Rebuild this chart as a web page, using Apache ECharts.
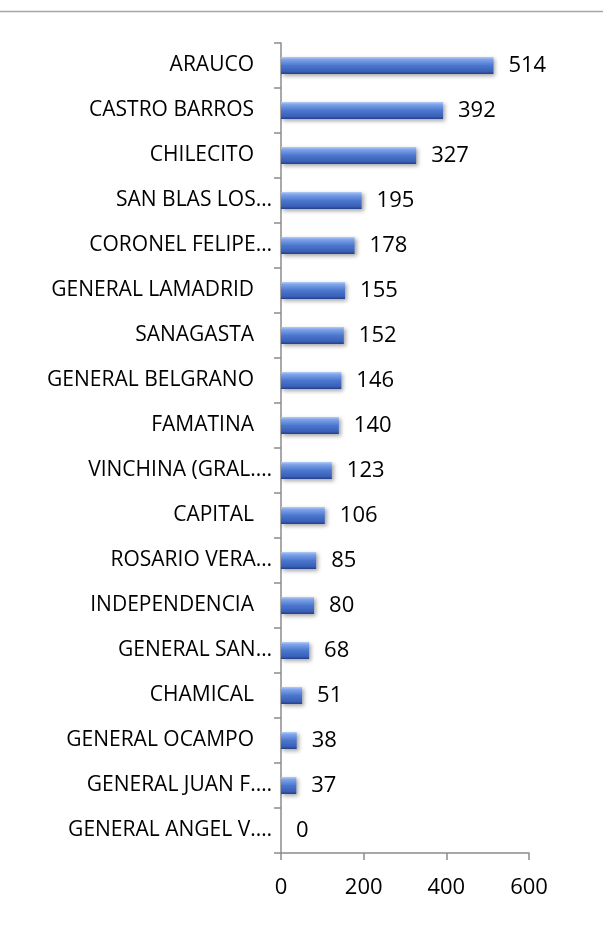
<!DOCTYPE html>
<html>
<head>
<meta charset="utf-8">
<script src="https://cdn.jsdelivr.net/npm/echarts@6/dist/echarts.min.js"></script>
<style>
html,body{margin:0;padding:0;background:#fff;}
#chart{width:603px;height:934px;}
</style>
</head>
<body>
<div id="chart"></div>
<script>
const categories = ["ARAUCO","CASTRO BARROS","CHILECITO","SAN BLAS LOS…","CORONEL FELIPE…","GENERAL LAMADRID","SANAGASTA","GENERAL BELGRANO","FAMATINA","VINCHINA (GRAL.…","CAPITAL","ROSARIO VERA…","INDEPENDENCIA","GENERAL SAN…","CHAMICAL","GENERAL OCAMPO","GENERAL JUAN F.…","GENERAL ANGEL V.…"];
const values = [514,392,327,195,178,155,152,146,140,123,106,85,80,68,51,38,37,0];
const xTicks = [0,200,400,600];

const FONT = "'Open Sans'";
const chart = echarts.init(document.getElementById('chart'), null, {renderer:'canvas'});
chart.setOption({
  animation:false,
  backgroundColor:'#fff',
  graphic:[{type:'line',shape:{x1:0,y1:11.5,x2:603,y2:11.5},style:{stroke:'#a6a6a6',lineWidth:1.5}}],
  grid:{left:281,right:74,top:43,bottom:81,containLabel:false},
  xAxis:{
    type:'value',min:xTicks[0],max:xTicks[xTicks.length-1],interval:200,
    axisLine:{show:true,lineStyle:{color:'#8c8c8c',width:1.5}},
    axisTick:{show:true,length:7,lineStyle:{color:'#8c8c8c',width:1.5}},
    splitLine:{show:false},
    axisLabel:{color:'#000',fontFamily:FONT,fontSize:22,margin:24}
  },
  yAxis:{
    type:'category',data:categories,inverse:true,
    axisLine:{show:true,lineStyle:{color:'#8c8c8c',width:1.5}},
    axisTick:{show:true,length:7,lineStyle:{color:'#8c8c8c',width:1.5}},
    axisLabel:{
      color:'#000',fontFamily:FONT,fontSize:21,margin:9,
      formatter:function(v){ return v.endsWith('…') ? '{a|'+v+'}' : '{b|'+v+'}'; },
      rich:{
        a:{color:'#000',fontFamily:FONT,fontSize:21},
        b:{color:'#000',fontFamily:FONT,fontSize:21,padding:[0,18,0,0]}
      }
    }
  },
  series:[{
    type:'bar',data:values,barWidth:17,
    itemStyle:{
      color:new echarts.graphic.LinearGradient(0,0,0,1,[
        {offset:0,color:'#b3cdf7'},
        {offset:0.15,color:'#7da3e8'},
        {offset:0.5,color:'#4c77cf'},
        {offset:0.85,color:'#3a5fb6'},
        {offset:1,color:'#243f86'}
      ]),
      shadowColor:'rgba(0,0,0,0.35)',shadowBlur:4,shadowOffsetX:2,shadowOffsetY:2
    },
    label:{show:true,position:'right',distance:15,color:'#000',fontFamily:FONT,fontSize:22}
  }]
});
</script>
</body>
</html>
